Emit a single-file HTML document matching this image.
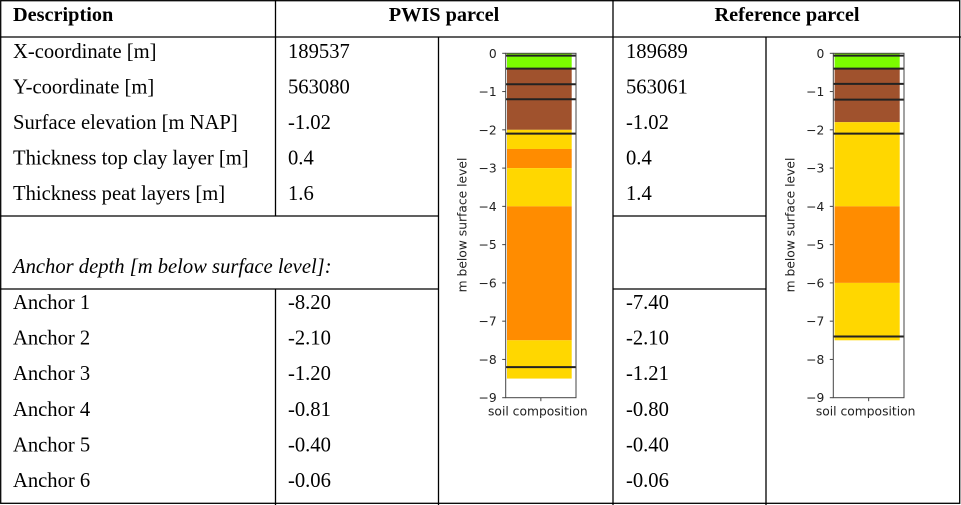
<!DOCTYPE html>
<html><head><meta charset="utf-8"><style>
body{margin:0;background:#fff}
svg{display:block}
.t{font-family:"Liberation Serif",serif;font-size:20.6px;fill:#000}
.h{font-family:"Liberation Serif",serif;font-size:20.3px;font-weight:bold;fill:#000}
.c{font-family:"DejaVu Sans","Liberation Sans",sans-serif;font-size:12.3px;fill:#222}
</style></head><body>
<svg id="s" width="961" height="505" viewBox="0 0 961 505">
<g stroke="#000" stroke-width="1.3" fill="none">
<rect x="0.7" y="0.7" width="959" height="502.6"/>
<line x1="0" y1="37" x2="961" y2="37"/>
<line x1="275.5" y1="0" x2="275.5" y2="216"/>
<line x1="275.5" y1="289" x2="275.5" y2="505"/>
<line x1="438.5" y1="37" x2="438.5" y2="505"/>
<line x1="613" y1="0" x2="613" y2="505"/>
<line x1="766" y1="37" x2="766" y2="505"/>
<line x1="0" y1="216" x2="438.5" y2="216"/>
<line x1="0" y1="289" x2="438.5" y2="289"/>
<line x1="613" y1="216" x2="766" y2="216"/>
<line x1="613" y1="289" x2="766" y2="289"/>
</g>
<text class="h" x="13" y="21">Description</text>
<text class="h" x="444" y="21" text-anchor="middle">PWIS parcel</text>
<text class="h" x="787" y="21" text-anchor="middle">Reference parcel</text>
<g id="rows"></g>
<text class="t" x="13" y="273" font-style="italic">Anchor depth [m below surface level]:</text>
<g id="c1"></g><g id="c2"></g>
</svg>
<script>
const labels=["X-coordinate [m]","Y-coordinate [m]","Surface elevation [m NAP]","Thickness top clay layer [m]","Thickness peat layers [m]"];
const pwisVals=["189537","563080","-1.02","0.4","1.6"];
const refVals=["189689","563061","-1.02","0.4","1.4"];
const anchorLabels=["Anchor 1","Anchor 2","Anchor 3","Anchor 4","Anchor 5","Anchor 6"];
const pwisAnchors=["-8.20","-2.10","-1.20","-0.81","-0.40","-0.06"];
const refAnchors=["-7.40","-2.10","-1.21","-0.80","-0.40","-0.06"];
const pwisTops=[0,0.4,2.0,2.5,3,4,7.5];
const pwisBottoms=[0.4,2.0,2.5,3,4,7.5,8.5];
const pwisColors=["#7cfc00","#a0522d","#ffd700","#ff8c00","#ffd700","#ff8c00","#ffd700"];
const pwisLines=[0.06,0.4,0.81,1.2,2.1,8.2];
const refTops=[0,0.4,1.8,4,6];
const refBottoms=[0.4,1.8,4,6,7.5];
const refColors=["#7cfc00","#a0522d","#ffd700","#ff8c00","#ffd700"];
const refLines=[0.06,0.4,0.8,1.21,2.1,7.4];
const ticks=[0,-1,-2,-3,-4,-5,-6,-7,-8,-9];

const NS="http://www.w3.org/2000/svg";
function mk(tag,attrs,parent,txt){const e=document.createElementNS(NS,tag);for(const k in attrs)e.setAttribute(k,attrs[k]);if(txt!==undefined)e.textContent=txt;parent.appendChild(e);return e;}
const rows=document.getElementById('rows');
function txt(x,y,s,name){const e=mk('text',{class:'t',x:x,y:y},rows,s);

}
labels.forEach((l,i)=>{const y=58+i*35.5;txt(13,y,l,'row-label');txt(288,y,pwisVals[i],'pwis-value');txt(626,y,refVals[i],'ref-value');});
anchorLabels.forEach((l,i)=>{const y=309+i*35.6;txt(13,y,l,'anchor-label');txt(288,y,pwisAnchors[i],'pwis-anchor');txt(626,y,refAnchors[i],'ref-anchor');});

function chart(gid,ax0,ax1,tops,bottoms,colors,lines){
 const g=document.getElementById(gid);
 
 
 const y0=53.3,y9=397.7;
 const Y=d=>y0+(y9-y0)*d/9;
 const bx0=ax0+1.3,bx1=ax1-4.3;
 tops.forEach((t,i)=>{const r=mk('rect',{x:bx0,y:Y(t),width:bx1-bx0,height:Y(bottoms[i])-Y(t),fill:colors[i]},g);
 
 });
 lines.forEach(d=>{const l=mk('line',{x1:ax0,x2:ax1,y1:Y(d),y2:Y(d),stroke:'#222','stroke-width':2},g);
 
 });
 const fr=mk('rect',{x:ax0,y:y0,width:ax1-ax0,height:y9-y0,fill:'none',stroke:'#444','stroke-width':1},g);
 
 
 ticks.forEach(t=>{mk('line',{x1:ax0-3.5,x2:ax0,y1:Y(-t),y2:Y(-t),stroke:'#444'},g);
 const e=mk('text',{class:'c',x:ax0-9,y:Y(-t)+4.5,'text-anchor':'end'},g,t===0?'0':'\u2212'+(-t));
 
 });
 const cx=(ax0+ax1)/2;
 mk('line',{x1:cx,x2:cx,y1:y9,y2:y9+3.5,stroke:'#444'},g);
 const xl=mk('text',{class:'c',x:cx-3,y:y9+18,'text-anchor':'middle'},g,'soil composition');
 
 
 const yl=mk('text',{class:'c',x:0,y:0,'text-anchor':'middle',transform:`translate(${ax0-39},225) rotate(-90)`},g,'m below surface level');
 
 
}
chart('c1',505.7,576,pwisTops,pwisBottoms,pwisColors,pwisLines);
chart('c2',833.3,904,refTops,refBottoms,refColors,refLines);
</script>
</body></html>
